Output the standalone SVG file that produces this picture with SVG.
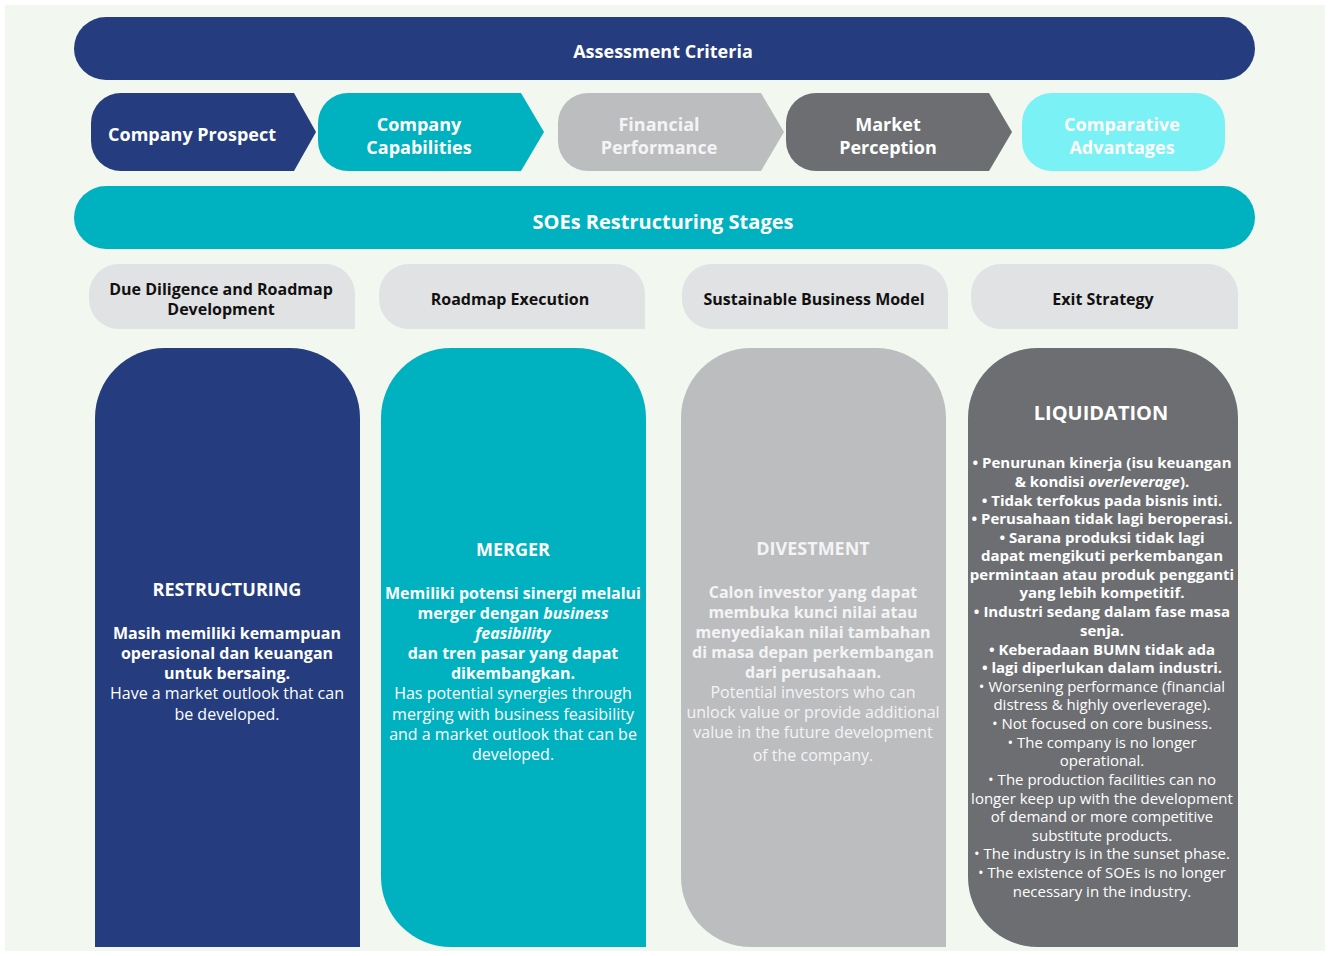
<svg xmlns="http://www.w3.org/2000/svg" width="1330" height="956" viewBox="0 0 1330 956">
<style>
text{font-family:"Open Sans","Liberation Sans",sans-serif;text-anchor:middle}
.w{fill:#ffffff}
.lt{fill:#f4f4f4}
.k{fill:#111111}
.b{font-weight:700}
.r{font-weight:400}
.h18{font-size:18px}
.h20{font-size:20px}
.s16{font-size:16px}
.s15{font-size:15px}
.navy{fill:#253d7e}
.teal{fill:#00b2c0}
.gray{fill:#bcbdbf}
.dgray{fill:#6d6e71}
.cyan{fill:#79f1f5}
.stage{fill:#e1e2e4}
</style>
<rect x="0" y="0" width="1330" height="956" fill="#ffffff"/>
<rect x="5" y="5" width="1320" height="946" fill="#f2f7f0"/>

<g id="assessment-criteria">
<rect x="74" y="17" width="1181" height="63" rx="32" class="navy"/>
<text x="663" y="58" class="w b h18">Assessment Criteria</text>
</g>

<g id="company-prospect">
<path d="M121 93 H294 L316 132 L294 171 H121 A30 30 0 0 1 91 141 V123 A30 30 0 0 1 121 93 Z" class="navy"/>
<text x="192" y="141" class="w b h18">Company Prospect</text>
</g>
<g id="company-capabilities">
<path d="M348 93 H521 L544 132 L521 171 H348 A30 30 0 0 1 318 141 V123 A30 30 0 0 1 348 93 Z" class="teal"/>
<text x="419" y="131" class="w b h18">Company</text>
<text x="419" y="154" class="w b h18">Capabilities</text>
</g>
<g id="financial-performance">
<path d="M588 93 H761 L784 132 L761 171 H588 A30 30 0 0 1 558 141 V123 A30 30 0 0 1 588 93 Z" class="gray"/>
<text x="659" y="131" class="lt b h18">Financial</text>
<text x="659" y="154" class="lt b h18">Performance</text>
</g>
<g id="market-perception">
<path d="M816 93 H989 L1012 132 L989 171 H816 A30 30 0 0 1 786 141 V123 A30 30 0 0 1 816 93 Z" class="dgray"/>
<text x="888" y="131" class="w b h18">Market</text>
<text x="888" y="154" class="w b h18">Perception</text>
</g>
<g id="comparative-advantages">
<rect x="1022" y="93" width="203" height="78" rx="30" class="cyan"/>
<text x="1122" y="131" class="w b h18">Comparative</text>
<text x="1122" y="154" class="w b h18">Advantages</text>
</g>

<g id="soes-stages">
<rect x="74" y="186" width="1181" height="63" rx="32" class="teal"/>
<text x="663" y="229" class="w b h20">SOEs Restructuring Stages</text>
</g>

<g id="stage-due-diligence">
<path d="M119 264 H325 A30 30 0 0 1 355 294 V329 H119 A30 30 0 0 1 89 299 V294 A30 30 0 0 1 119 264 Z" class="stage"/>
<text x="221" y="295" class="k b s16">Due Diligence and Roadmap</text>
<text x="221" y="315" class="k b s16">Development</text>
</g>
<g id="stage-roadmap-execution">
<path d="M409 264 H615 A30 30 0 0 1 645 294 V329 H409 A30 30 0 0 1 379 299 V294 A30 30 0 0 1 409 264 Z" class="stage"/>
<text x="510" y="305" class="k b s16">Roadmap Execution</text>
</g>
<g id="stage-sustainable">
<path d="M712 264 H918 A30 30 0 0 1 948 294 V329 H712 A30 30 0 0 1 682 299 V294 A30 30 0 0 1 712 264 Z" class="stage"/>
<text x="814" y="305" class="k b s16">Sustainable Business Model</text>
</g>
<g id="stage-exit">
<path d="M1001 264 H1208 A30 30 0 0 1 1238 294 V329 H1001 A30 30 0 0 1 971 299 V294 A30 30 0 0 1 1001 264 Z" class="stage"/>
<text x="1103" y="305" class="k b s16">Exit Strategy</text>
</g>

<g id="restructuring">
<path d="M165 348 H290 A70 70 0 0 1 360 418 V947 H95 V418 A70 70 0 0 1 165 348 Z" class="navy"/>
<text x="227" y="596" class="w b h18">RESTRUCTURING</text>
<text x="227" y="639" class="w b s16">Masih memiliki kemampuan</text>
<text x="227" y="659" class="w b s16">operasional dan keuangan</text>
<text x="227" y="679" class="w b s16">untuk bersaing.</text>
<text x="227" y="699" class="w r s16">Have a market outlook that can</text>
<text x="227" y="720" class="w r s16">be developed.</text>
</g>

<g id="merger">
<path d="M451 348 H576 A70 70 0 0 1 646 418 V947 H451 A70 70 0 0 1 381 877 V418 A70 70 0 0 1 451 348 Z" class="teal"/>
<text x="513" y="556" class="w b h18">MERGER</text>
<text x="513" y="599" class="w b s16">Memiliki potensi sinergi melalui</text>
<text x="513" y="619" class="w b s16">merger dengan <tspan font-style="italic">business</tspan></text>
<text x="513" y="639" class="w b s16" font-style="italic">feasibility</text>
<text x="513" y="659" class="w b s16">dan tren pasar yang dapat</text>
<text x="513" y="679" class="w b s16">dikembangkan.</text>
<text x="513" y="699" class="w r s16">Has potential synergies through</text>
<text x="513" y="720" class="w r s16">merging with business feasibility</text>
<text x="513" y="740" class="w r s16">and a market outlook that can be</text>
<text x="513" y="760" class="w r s16">developed.</text>
</g>

<g id="divestment">
<path d="M751 348 H876 A70 70 0 0 1 946 418 V947 H751 A70 70 0 0 1 681 877 V418 A70 70 0 0 1 751 348 Z" class="gray"/>
<text x="813" y="555" class="lt b h18">DIVESTMENT</text>
<text x="813" y="598" class="lt b s16">Calon investor yang dapat</text>
<text x="813" y="618" class="lt b s16">membuka kunci nilai atau</text>
<text x="813" y="638" class="lt b s16">menyediakan nilai tambahan</text>
<text x="813" y="658" class="lt b s16">di masa depan perkembangan</text>
<text x="813" y="678" class="lt b s16">dari perusahaan.</text>
<text x="813" y="698" class="lt r s16">Potential investors who can</text>
<text x="813" y="718" class="lt r s16">unlock value or provide additional</text>
<text x="813" y="738" class="lt r s16">value in the future development</text>
<text x="813" y="761" class="lt r s16">of the company.</text>
</g>

<g id="liquidation">
<path d="M1038 348 H1168 A70 70 0 0 1 1238 418 V947 H1038 A70 70 0 0 1 968 877 V418 A70 70 0 0 1 1038 348 Z" class="dgray"/>
<text x="1101" y="420" class="w b h20">LIQUIDATION</text>
<text x="1102" y="468" class="w b s15">• Penurunan kinerja (isu keuangan</text>
<text x="1102" y="487" class="w b s15">&amp; kondisi <tspan font-style="italic">overleverage</tspan>).</text>
<text x="1102" y="506" class="w b s15">• Tidak terfokus pada bisnis inti.</text>
<text x="1102" y="524" class="w b s15">• Perusahaan tidak lagi beroperasi.</text>
<text x="1102" y="543" class="w b s15">• Sarana produksi tidak lagi</text>
<text x="1102" y="561" class="w b s15">dapat mengikuti perkembangan</text>
<text x="1102" y="580" class="w b s15">permintaan atau produk pengganti</text>
<text x="1102" y="598" class="w b s15">yang lebih kompetitif.</text>
<text x="1102" y="617" class="w b s15">• Industri sedang dalam fase masa</text>
<text x="1102" y="636" class="w b s15">senja.</text>
<text x="1102" y="655" class="w b s15">• Keberadaan BUMN tidak ada</text>
<text x="1102" y="673" class="w b s15">• lagi diperlukan dalam industri.</text>
<text x="1102" y="692" class="w r s15">• Worsening performance (financial</text>
<text x="1102" y="710" class="w r s15">distress &amp; highly overleverage).</text>
<text x="1102" y="729" class="w r s15">• Not focused on core business.</text>
<text x="1102" y="748" class="w r s15">• The company is no longer</text>
<text x="1102" y="766" class="w r s15">operational.</text>
<text x="1102" y="785" class="w r s15">• The production facilities can no</text>
<text x="1102" y="804" class="w r s15">longer keep up with the development</text>
<text x="1102" y="822" class="w r s15">of demand or more competitive</text>
<text x="1102" y="841" class="w r s15">substitute products.</text>
<text x="1102" y="859" class="w r s15">• The industry is in the sunset phase.</text>
<text x="1102" y="878" class="w r s15">• The existence of SOEs is no longer</text>
<text x="1102" y="897" class="w r s15">necessary in the industry.</text>
</g>

<g id="connectors"></g>
</svg>
